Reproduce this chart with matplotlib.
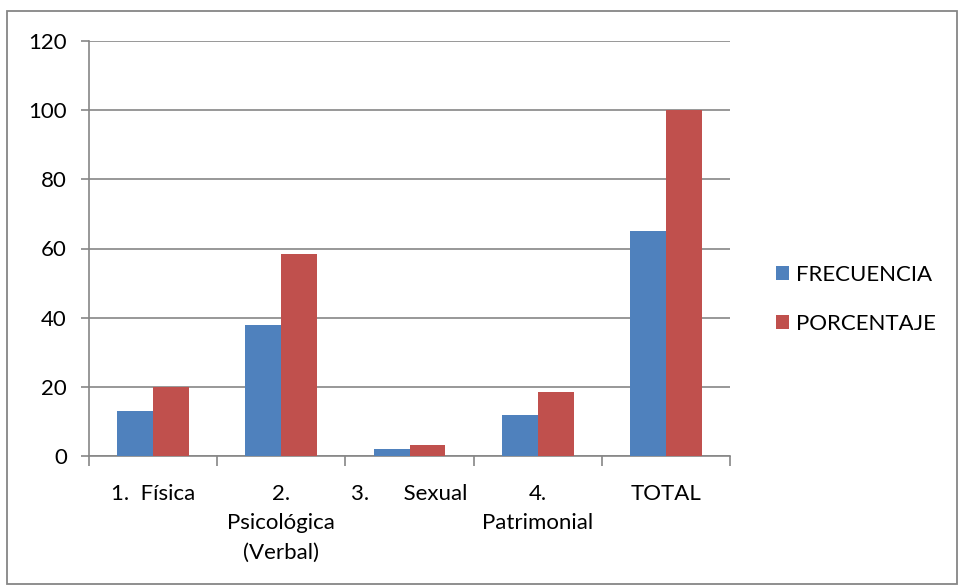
import numpy as np
import matplotlib.pyplot as plt
from matplotlib.patches import Rectangle

# Data
categorias = ['1.  Física', '2.\nPsicológica\n(Verbal)', '3.      Sexual', '4.\nPatrimonial', 'TOTAL']
frecuencia = [13, 38, 2, 12, 65]
porcentaje = [20, 58.46, 3.08, 18.46, 100]

plt.rcParams['font.family'] = ['Lato', 'DejaVu Sans']

fig = plt.figure(figsize=(9.59, 5.85), dpi=100)
ax = fig.add_axes([89 / 959, 1 - 456 / 585, (730 - 89) / 959, (456 - 41) / 585])

# outer chart border
fig.patches.append(Rectangle((7 / 959, 1 / 585), 950 / 959, 573 / 585, transform=fig.transFigure,
                             fill=False, edgecolor='#868686', linewidth=1.3))

x = np.arange(len(categorias))
w = 0.28
ax.bar(x - w / 2, frecuencia, w, color='#4f81bd', label='FRECUENCIA', zorder=3)
ax.bar(x + w / 2, porcentaje, w, color='#c0504d', label='PORCENTAJE', zorder=3)

ax.set_xlim(-0.5, len(categorias) - 0.5)
ax.set_ylim(0, 120)
ax.set_yticks(np.arange(0, 121, 20))
ax.grid(axis='y', color='#868686', linewidth=1.2, zorder=0)

ax.set_xticks(x)
ax.set_xticklabels(categorias, linespacing=1.6)
ax.set_xticks(np.arange(-0.5, len(categorias)), minor=True)
ax.tick_params(axis='x', which='major', length=0, pad=20, labelsize=16)
ax.tick_params(axis='x', which='minor', length=7, color='#868686', width=1.2)
ax.tick_params(axis='y', length=6, color='#868686', width=1.2, labelsize=16, pad=10)

for s in ['top', 'right']:
    ax.spines[s].set_visible(False)
for s in ['left', 'bottom']:
    ax.spines[s].set_color('#868686')
    ax.spines[s].set_linewidth(1.2)

ax.legend(loc='center left', bbox_to_anchor=(1.04, 0.378), frameon=False, fontsize=16,
          handlelength=0.6, handleheight=0.6, handletextpad=0.3, labelspacing=1.3)

fig.savefig('out.png', dpi=100)
